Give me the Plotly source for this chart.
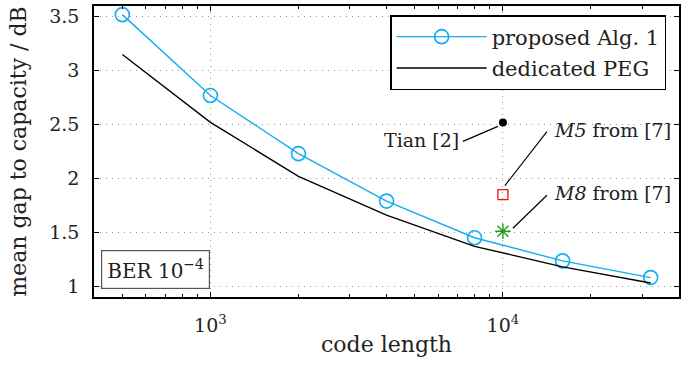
import math
import plotly.graph_objects as go

# ---- data ----
code_length = [500, 1000, 2000, 4000, 8000, 16000, 32000]
proposed_alg1 = [3.52, 2.77, 2.23, 1.79, 1.45, 1.235, 1.08]
dedicated_peg = [3.15, 2.52, 2.02, 1.66, 1.37, 1.18, 1.03]

ref_length = 10000
tian_gap = 2.52
m5_gap = 1.85
m8_gap = 1.51

y_ticks = [1, 1.5, 2, 2.5, 3, 3.5]
y_ticktext = ["1", "1.5", "2", "2.5", "3", "3.5"]
x_ticks = [1000, 10000]
x_ticktext = ["10<sup>3</sup>", "10<sup>4</sup>"]
x_minor = [400, 500, 600, 700, 800, 900, 2000, 3000, 4000, 5000, 6000, 7000,
           8000, 9000, 20000, 30000, 40000]

FONT = "DejaVu Serif"
BLUE = "#14acf0"
TXT = "#222222"
X_RANGE = [2.602, 4.602]
Y_RANGE = [0.9, 3.6]
MARGIN = dict(l=94, r=17, t=6, b=68)
W, H = 696, 365
PW = W - MARGIN["l"] - MARGIN["r"]
PH = H - MARGIN["t"] - MARGIN["b"]

fig = go.Figure()
fig.add_trace(go.Scatter(
    x=code_length, y=proposed_alg1, mode="lines+markers", name="proposed Alg. 1",
    legendgroup="a",
    line=dict(color=BLUE, width=1.4),
    marker=dict(symbol="circle-open", size=14, color=BLUE, line=dict(width=1.6)),
))
fig.add_trace(go.Scatter(
    x=code_length, y=dedicated_peg, mode="lines", name="dedicated PEG",
    legendgroup="b",
    line=dict(color="black", width=1.4),
))
fig.add_trace(go.Scatter(
    x=[ref_length], y=[tian_gap], mode="markers", showlegend=False,
    marker=dict(symbol="circle", size=8, color="black"),
))
fig.add_trace(go.Scatter(
    x=[ref_length], y=[m5_gap], mode="markers", showlegend=False,
    marker=dict(symbol="square-open", size=10, color="#e8161b", line=dict(width=1.3)),
))
fig.add_trace(go.Scatter(
    x=[ref_length], y=[m8_gap], mode="markers", showlegend=False,
    marker=dict(symbol="asterisk-open", size=13, color="#1b9e1b", line=dict(width=1.4, color="#1b9e1b")),
))

axis_common = dict(
    showline=True, linecolor="black", linewidth=1.6, mirror="ticks",
    ticks="inside", ticklen=5, tickwidth=1, tickcolor="black",
    showgrid=True, gridcolor="#9a9a9a", gridwidth=1, griddash="1px,5px",
    zeroline=False, automargin=False,
    tickfont=dict(family=FONT, size=19, color=TXT),
)

fig.update_xaxes(
    type="log", range=X_RANGE,
    tickvals=x_ticks, ticktext=x_ticktext, ticklabelstandoff=10,
    minor=dict(tickvals=x_minor, ticks="inside", ticklen=3, tickcolor="black", showgrid=False),
    title=dict(text="code length", font=dict(family=FONT, size=22, color=TXT), standoff=2),
    **axis_common,
)
fig.update_yaxes(
    range=Y_RANGE, tickvals=y_ticks, ticktext=y_ticktext, ticklabelstandoff=9,
    title=dict(text="mean gap to capacity / dB", font=dict(family=FONT, size=22, color=TXT), standoff=16),
    **axis_common,
)

ann_font = dict(family=FONT, size=19, color=TXT)
annotations = [
    dict(x=4, y=tian_gap, xref="x", yref="y", text="Tian [2]", showarrow=False,
         xanchor="right", yanchor="middle", xshift=-42, yshift=-18, font=ann_font),
    dict(x=4, y=m5_gap, xref="x", yref="y", text="<i>M5</i> from [7]", showarrow=False,
         xanchor="left", yanchor="middle", xshift=49, yshift=65, font=ann_font),
    dict(x=4, y=m8_gap, xref="x", yref="y", text="<i>M8</i> from [7]", showarrow=False,
         xanchor="left", yanchor="middle", xshift=49, yshift=38, font=ann_font),
    dict(x=0.012, y=0.028, xref="paper", yref="paper", xanchor="left", yanchor="bottom",
         text="BER 10<sup>\u22124</sup>", showarrow=False,
         font=dict(family=FONT, size=20, color=TXT),
         bordercolor="#555555", borderwidth=1.2, borderpad=5, bgcolor="white"),
]


def to_paper(xv, yv, dx, dy):
    px = (math.log10(xv) - X_RANGE[0]) / (X_RANGE[1] - X_RANGE[0]) + dx / PW
    py = (yv - Y_RANGE[0]) / (Y_RANGE[1] - Y_RANGE[0]) + dy / PH
    return px, py


# leader lines: pixel offsets (dx, dy up) from the reference points
leaders = [
    (tian_gap, -5, -4, -40, -19),
    (m5_gap, 2, 9, 44, 63),
    (m8_gap, 10, 3, 44, 36),
]
shapes = []
for yv, dx0, dy0, dx1, dy1 in leaders:
    x0, y0 = to_paper(ref_length, yv, dx0, dy0)
    x1, y1 = to_paper(ref_length, yv, dx1, dy1)
    shapes.append(dict(type="line", xref="paper", yref="paper",
                       x0=x0, y0=y0, x1=x1, y1=y1,
                       line=dict(color="black", width=1.2)))

fig.update_layout(
    width=W, height=H,
    margin=MARGIN,
    plot_bgcolor="white", paper_bgcolor="white",
    font=dict(family=FONT, color=TXT),
    showlegend=True,
    legend=dict(
        x=0.978, y=0.969, xanchor="right", yanchor="top",
        bordercolor="black", borderwidth=1.5, bgcolor="white",
        font=dict(family=FONT, size=21, color=TXT),
        itemwidth=90, tracegroupgap=1,
    ),
    annotations=annotations,
    shapes=shapes,
)

fig.write_html("out.html", config={"displayModeBar": False},
               post_script="document.body.style.margin='0px';")
